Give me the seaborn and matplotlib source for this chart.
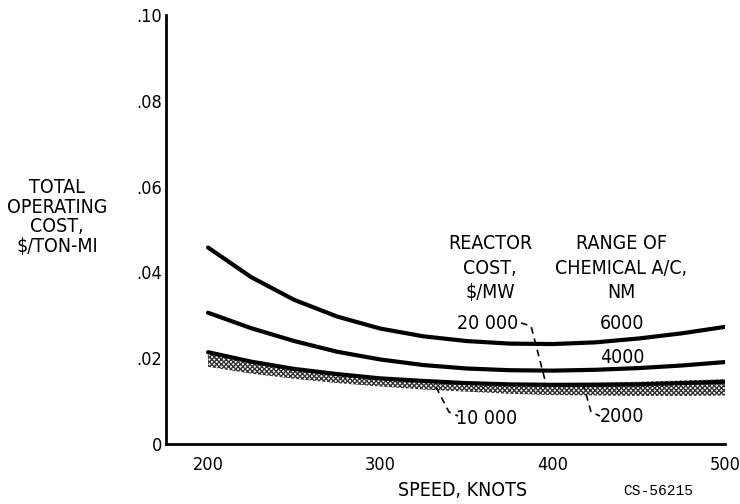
import matplotlib
matplotlib.use("Agg")
import matplotlib.pyplot as plt
import seaborn as sns
import pandas as pd

# ---- data ----
speed = [200, 225, 250, 275, 300, 325, 350, 375, 400, 425, 450, 475, 500]
cost_6000 = [0.0458, 0.0389, 0.0336, 0.0297, 0.0269, 0.0251, 0.0240, 0.0234, 0.0233, 0.0237, 0.0246, 0.0258, 0.0273]
cost_4000 = [0.0306, 0.0270, 0.0240, 0.0215, 0.0197, 0.0184, 0.0176, 0.0172, 0.0171, 0.0173, 0.0177, 0.0183, 0.0191]
cost_2000 = [0.0214, 0.0192, 0.0175, 0.0163, 0.0153, 0.0147, 0.0142, 0.0139, 0.0138, 0.0138, 0.0139, 0.0142, 0.0145]
band_20000 = [0.0212, 0.0191, 0.0175, 0.0163, 0.0154, 0.0148, 0.0144, 0.0142, 0.0142, 0.0143, 0.0145, 0.0148, 0.0151]
band_10000 = [0.0180, 0.0164, 0.0152, 0.0142, 0.0134, 0.0127, 0.0122, 0.0117, 0.0114, 0.0113, 0.0112, 0.0112, 0.0113]
x_ticks = [200, 300, 400, 500]
y_ticks = [0, 0.02, 0.04, 0.06, 0.08, 0.10]
y_ticklabels = ["0", ".02", ".04", ".06", ".08", ".10"]
range_labels = ["6000", "4000", "2000"]

sns.set_style("white")
plt.rcParams["font.family"] = ["DejaVu Sans"]
plt.rcParams["font.stretch"] = "condensed"
plt.rcParams["text.color"] = "black"
plt.rcParams["xtick.color"] = "black"
plt.rcParams["ytick.color"] = "black"
plt.rcParams["hatch.linewidth"] = 1.0

W, H = 740, 504
fig = plt.figure(figsize=(W / 100, H / 100), dpi=100)
ax = fig.add_axes([166 / W, 1 - 444 / H, (725 - 166) / W, (444 - 15) / H])

df = pd.DataFrame({
    "speed": speed * 3,
    "cost": cost_6000 + cost_4000 + cost_2000,
    "range": sum([[r] * len(speed) for r in range_labels], []),
})

# hatched band (reactor cost 10 000 .. 20 000 $/MW for 2000 NM)
ax.fill_between(speed, band_10000, band_20000, facecolor="white",
                edgecolor="0.2", hatch="xxxxxxx", linewidth=0, zorder=1)

sns.lineplot(data=df, x="speed", y="cost", units="range", estimator=None,
             color="black", linewidth=3.0, ax=ax, legend=False, zorder=3)

ax.set_xlim(175.6, 500)
ax.set_ylim(0, 0.10)
ax.set_xticks(x_ticks)
ax.set_xticklabels([str(t) for t in x_ticks])
ax.set_yticks(y_ticks)
ax.set_yticklabels(y_ticklabels)
for s in ["top", "right"]:
    ax.spines[s].set_visible(False)
for s in ["left", "bottom"]:
    ax.spines[s].set_linewidth(2.0)
    ax.spines[s].set_color("black")
ax.tick_params(axis="both", direction="in", length=20, width=1.6,
               labelsize=13, labelcolor="black")
ax.tick_params(axis="x", pad=9)
ax.tick_params(axis="y", pad=3)
ax.set_xlabel("")
ax.set_ylabel("")


def P(px, py):
    """pixel position in the reference -> data coordinates"""
    return 200 + (px - 208) / 1.7233, (444 - py) * 0.0002331


fs = 14
fig.text(57 / W, 1 - 217 / H, "TOTAL\nOPERATING\nCOST,\n$/TON-MI", ha="center",
         va="center", fontsize=fs, linespacing=1.05)
fig.text(463 / W, 1 - 491 / H, "SPEED, KNOTS", ha="center", va="center", fontsize=fs)
fig.text(658 / W, 1 - 491 / H, "CS-56215", ha="center", va="center", fontsize=10.5,
         family=["Liberation Mono", "DejaVu Sans Mono"], stretch="normal")

ax.text(*P(490, 268), "REACTOR\nCOST,\n$/MW", ha="center", va="center",
        fontsize=fs, linespacing=1.35)
ax.text(*P(621, 268), "RANGE OF\nCHEMICAL A/C,\nNM", ha="center", va="center",
        fontsize=fs, linespacing=1.35)
ax.text(*P(488, 323), "20 000", ha="center", va="center", fontsize=fs)
ax.text(*P(622, 323), "6000", ha="center", va="center", fontsize=fs)
ax.text(*P(622, 357), "4000", ha="center", va="center", fontsize=fs)
ax.text(*P(487, 418), "10 000", ha="center", va="center", fontsize=fs)
ax.text(*P(622, 416), "2000", ha="center", va="center", fontsize=fs)


def leader(pts):
    xs, ys = zip(*[P(*p) for p in pts])
    ax.plot(xs, ys, color="black", linewidth=1.2, linestyle=(0, (4, 3)), zorder=4)


leader([(521, 323), (531, 326), (546, 384)])
leader([(436, 387), (449, 412), (458, 416)])
leader([(583, 383), (591, 412), (600, 416)])

fig.savefig("out.png", dpi=100)
